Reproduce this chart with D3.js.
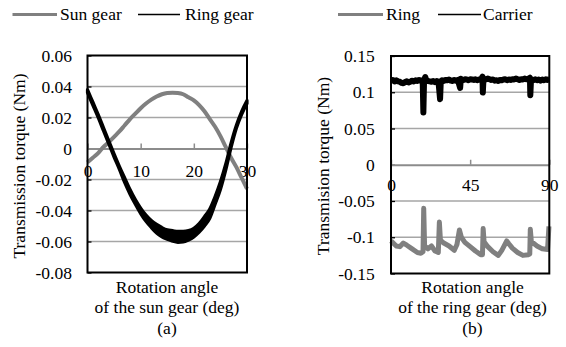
<!DOCTYPE html>
<html>
<head>
<meta charset="utf-8">
<script src="https://cdn.jsdelivr.net/npm/d3@7"></script>
<style>
  html, body { margin: 0; padding: 0; background: #fff; }
  svg text { font-family: "Liberation Serif", "Times New Roman", "DejaVu Serif", serif !important; }
</style>
</head>
<body>
<svg id="chart" width="566" height="347"></svg>
<script>
// ---------- Data: panel (a) ----------
const sunAngles = [0,1,2,3,4,5,6,7,8,9,10,11,12,13,14,15,16,17,18,19,20,21,22,23,24,25,26,27,28,29,30];
const sunGearTorque = [-0.009,-0.006,-0.003,0.001,0.004,0.0075,0.011,0.015,0.019,0.0225,0.026,0.029,0.0315,0.0335,0.035,0.0358,0.036,0.0358,0.035,0.033,0.031,0.028,0.024,0.019,0.014,0.008,0.001,-0.006,-0.012,-0.019,-0.026];
const ringGearHigh = [0.038,0.030,0.022,0.0135,0.005,-0.0035,-0.0115,-0.019,-0.0265,-0.033,-0.0385,-0.043,-0.0465,-0.049,-0.051,-0.0525,-0.053,-0.0535,-0.0535,-0.053,-0.0515,-0.0485,-0.044,-0.039,-0.031,-0.0215,-0.010,0.0035,0.015,0.024,0.031];
const ringGearLow  = [0.036,0.028,0.020,0.0115,0.003,-0.0055,-0.0135,-0.022,-0.0295,-0.036,-0.042,-0.047,-0.051,-0.0545,-0.057,-0.0585,-0.0598,-0.0605,-0.0603,-0.059,-0.057,-0.054,-0.050,-0.045,-0.036,-0.0265,-0.014,0.0005,0.013,0.022,0.029];
const leftTickValues = [0.06,0.04,0.02,0,-0.02,-0.04,-0.06,-0.08];
const leftTickLabels = ["0.06","0.04","0.02","0","-0.02","-0.04","-0.06","-0.08"];
const leftXTicks = [0,10,20,30];

// ---------- Data: panel (b) ----------
const carrierAngles = [0,1,2,3,4,5,6,7,8,9,10,11,12,13,14,15,16,17,18,18.4,18.8,19.5,20,21,22,23,24,25,26,27,27.9,28.3,29,30,31,32,33,34,35,36,37,38,39.3,39.7,40,41,42,43,44,45,46,47,48,49,50,51,52.0,52.2,52.6,53,54,55,56,57,58,59,60,61,62,63,64,65,66,67,68,69,70,71,72,73,74,75,76,77,78,79.0,79.2,79.6,80,81,82,83,84,85,86,87,88,89,90];
const carrierTorque = [0.116,0.117,0.115,0.1165,0.115,0.1145,0.113,0.1125,0.114,0.115,0.1135,0.1145,0.116,0.115,0.1165,0.1155,0.117,0.116,0.1165,0.072,0.117,0.121,0.117,0.1155,0.115,0.1145,0.1155,0.114,0.1155,0.1145,0.0905,0.115,0.1165,0.1155,0.117,0.1165,0.1175,0.116,0.1155,0.117,0.116,0.117,0.106,0.1185,0.117,0.1165,0.118,0.1175,0.1165,0.118,0.1175,0.117,0.118,0.1165,0.1175,0.117,0.1215,0.0996,0.119,0.1185,0.1175,0.119,0.118,0.117,0.1175,0.116,0.1165,0.1155,0.117,0.1165,0.1175,0.118,0.1165,0.1175,0.117,0.118,0.1175,0.119,0.118,0.117,0.118,0.1175,0.119,0.118,0.1185,0.12,0.096,0.117,0.1175,0.1165,0.118,0.1165,0.1175,0.116,0.1175,0.1165,0.118,0.117,0.1175];
const ringAngles = [0,3,5,7,9,12,15,17,18.2,18.6,19.1,21,23,25,26.9,27.5,28.1,30,33,36,37.5,38.9,40,42,45,48,51,52.0,52.4,52.9,55,58,61,63,65.8,67,69,72,75,78,78.9,79.2,79.8,83,86,89,89.8];
const ringTorque = [-0.105,-0.112,-0.113,-0.108,-0.111,-0.116,-0.121,-0.122,-0.12,-0.060,-0.112,-0.116,-0.112,-0.119,-0.121,-0.079,-0.104,-0.108,-0.112,-0.118,-0.11,-0.090,-0.100,-0.107,-0.113,-0.119,-0.124,-0.124,-0.088,-0.106,-0.113,-0.120,-0.125,-0.118,-0.105,-0.109,-0.115,-0.121,-0.125,-0.124,-0.123,-0.089,-0.106,-0.112,-0.116,-0.117,-0.085];
const rightTickValues = [0.15,0.1,0.05,0,-0.05,-0.1,-0.15];
const rightTickLabels = ["0.15","0.1","0.05","0","-0.05","-0.1","-0.15"];
const rightXTicks = [0,45,90];

const GRAY = "#808080";
const GRID = "#a6a6a6";
const FONT = 17.5;
const FAMILY = '"Liberation Serif", "Times New Roman", "DejaVu Serif", serif';

const svg = d3.select("#chart");

function txt(sel) {
  return sel.style("font-family", FAMILY).attr("font-size", FONT).attr("fill", "#000");
}

function panel(cfg) {
  const g = svg.append("g");
  const x = d3.scaleLinear().domain(cfg.xDomain).range(cfg.xRange);
  const y = d3.scaleLinear().domain(cfg.yDomain).range(cfg.yRange);

  // gridlines
  g.append("g").selectAll("line").data(cfg.yTicks.filter(v => v !== 0 && v !== cfg.yDomain[0] && v !== cfg.yDomain[1]))
    .join("line")
    .attr("x1", cfg.xRange[0]).attr("x2", cfg.xRange[1])
    .attr("y1", d => y(d)).attr("y2", d => y(d))
    .attr("stroke", GRID).attr("stroke-width", 1.3);

  // y axis labels
  const yAxis = d3.axisLeft(y).tickValues(cfg.yTicks)
    .tickFormat((d, i) => cfg.yLabels[i]).tickSizeInner(-4).tickSizeOuter(0).tickPadding(cfg.yPad);
  const ya = g.append("g").attr("transform", `translate(${cfg.xRange[0]},0)`).call(yAxis);
  ya.attr("font-family", null).attr("font-size", null);
  ya.select(".domain").remove();
  ya.selectAll("line").attr("stroke", "#000").attr("stroke-width", 1.3);
  txt(ya.selectAll("text"));

  // x axis at zero
  const xAxis = d3.axisBottom(x).tickValues(cfg.xTicks).tickFormat(d3.format("d"))
    .tickSizeInner(-5).tickSizeOuter(0).tickPadding(cfg.xPad);
  const xa = g.append("g").attr("transform", `translate(0,${y(0)})`).call(xAxis);
  xa.attr("font-family", null).attr("font-size", null);
  xa.select(".domain").attr("stroke", "#8c8c8c").attr("stroke-width", 2);
  xa.selectAll("line").attr("stroke", "#8c8c8c").attr("stroke-width", 1.5);
  txt(xa.selectAll("text"));

  cfg.draw(g, x, y);

  // border
  g.append("rect")
    .attr("x", cfg.xRange[0]).attr("y", cfg.yRange[1])
    .attr("width", cfg.xRange[1] - cfg.xRange[0]).attr("height", cfg.yRange[0] - cfg.yRange[1])
    .attr("fill", "none").attr("stroke", "#000").attr("stroke-width", 2);

  // y title
  txt(g.append("text")
    .attr("transform", `translate(${cfg.yTitleX},${cfg.yTitleY}) rotate(-90)`)
    .attr("text-anchor", "middle")).text(cfg.yTitle);

  // x titles
  const cx = cfg.titleCx;
  txt(g.append("text").attr("x", cx).attr("y", 292.5).attr("text-anchor", "middle")).text("Rotation angle");
  txt(g.append("text").attr("x", cx).attr("y", 312.5).attr("text-anchor", "middle")).text(cfg.xTitle2);
  txt(g.append("text").attr("x", cx).attr("y", 334).attr("text-anchor", "middle")).text(cfg.label);

  // legend
  cfg.legend.forEach(l => {
    g.append("line").attr("x1", l.x1).attr("x2", l.x2).attr("y1", 14.5).attr("y2", 14.5)
      .attr("stroke", l.color).attr("stroke-width", l.w);
    txt(g.append("text").attr("x", l.tx).attr("y", 20)).text(l.text);
  });
}

// Panel (a)
panel({
  xDomain: [0, 30], xRange: [87.5, 247],
  yDomain: [-0.08, 0.06], yRange: [272.5, 55.5],
  yTicks: leftTickValues, yLabels: leftTickLabels, yPad: 15.5,
  xTicks: leftXTicks, xPad: 16.5,
  yTitle: "Transmission torque (Nm)", yTitleX: 25, yTitleY: 166,
  titleCx: 167, xTitle2: "of the sun gear (deg)", label: "(a)",
  legend: [
    {x1: 12.5, x2: 57, color: GRAY, w: 3, tx: 60, text: "Sun gear"},
    {x1: 138, x2: 180, color: "#000", w: 1.6, tx: 185, text: "Ring gear"}
  ],
  draw: (g, x, y) => {
    const sun = sunAngles.map((a, i) => [a, sunGearTorque[i]]);
    g.append("path").datum(sun)
      .attr("d", d3.line().x(d => x(d[0])).y(d => y(d[1])).curve(d3.curveMonotoneX))
      .attr("fill", "none").attr("stroke", GRAY).attr("stroke-width", 4);
    const ring = sunAngles.map((a, i) => ({a, hi: ringGearHigh[i], lo: ringGearLow[i]}));
    g.append("path").datum(ring)
      .attr("d", d3.area().x(d => x(d.a)).y0(d => y(d.lo)).y1(d => y(d.hi)).curve(d3.curveMonotoneX))
      .attr("fill", "#000").attr("stroke", "#000").attr("stroke-width", 3.2).attr("stroke-linejoin", "round");
  }
});

// Panel (b)
panel({
  xDomain: [0, 90], xRange: [391, 549.3],
  yDomain: [-0.15, 0.15], yRange: [273.5, 56],
  yTicks: rightTickValues, yLabels: rightTickLabels, yPad: 16.3,
  xTicks: rightXTicks, xPad: 13.5,
  yTitle: "Transmision torque (Nm)", yTitleX: 329, yTitleY: 166,
  titleCx: 472.5, xTitle2: "of the ring gear (deg)", label: "(b)",
  legend: [
    {x1: 338, x2: 383, color: GRAY, w: 3, tx: 386, text: "Ring"},
    {x1: 438, x2: 481, color: "#000", w: 1.6, tx: 483, text: "Carrier"}
  ],
  draw: (g, x, y) => {
    const carrier = carrierAngles.map((a, i) => [a, carrierTorque[i]]);
    g.append("path").datum(carrier)
      .attr("d", d3.line().x(d => x(d[0])).y(d => y(d[1])))
      .attr("fill", "none").attr("stroke", "#000").attr("stroke-width", 6).attr("stroke-linejoin", "round");
    const ring = ringAngles.map((a, i) => [a, ringTorque[i]]);
    g.append("path").datum(ring)
      .attr("d", d3.line().x(d => x(d[0])).y(d => y(d[1])))
      .attr("fill", "none").attr("stroke", GRAY).attr("stroke-width", 5).attr("stroke-linejoin", "round");
  }
});
</script>
</body>
</html>
